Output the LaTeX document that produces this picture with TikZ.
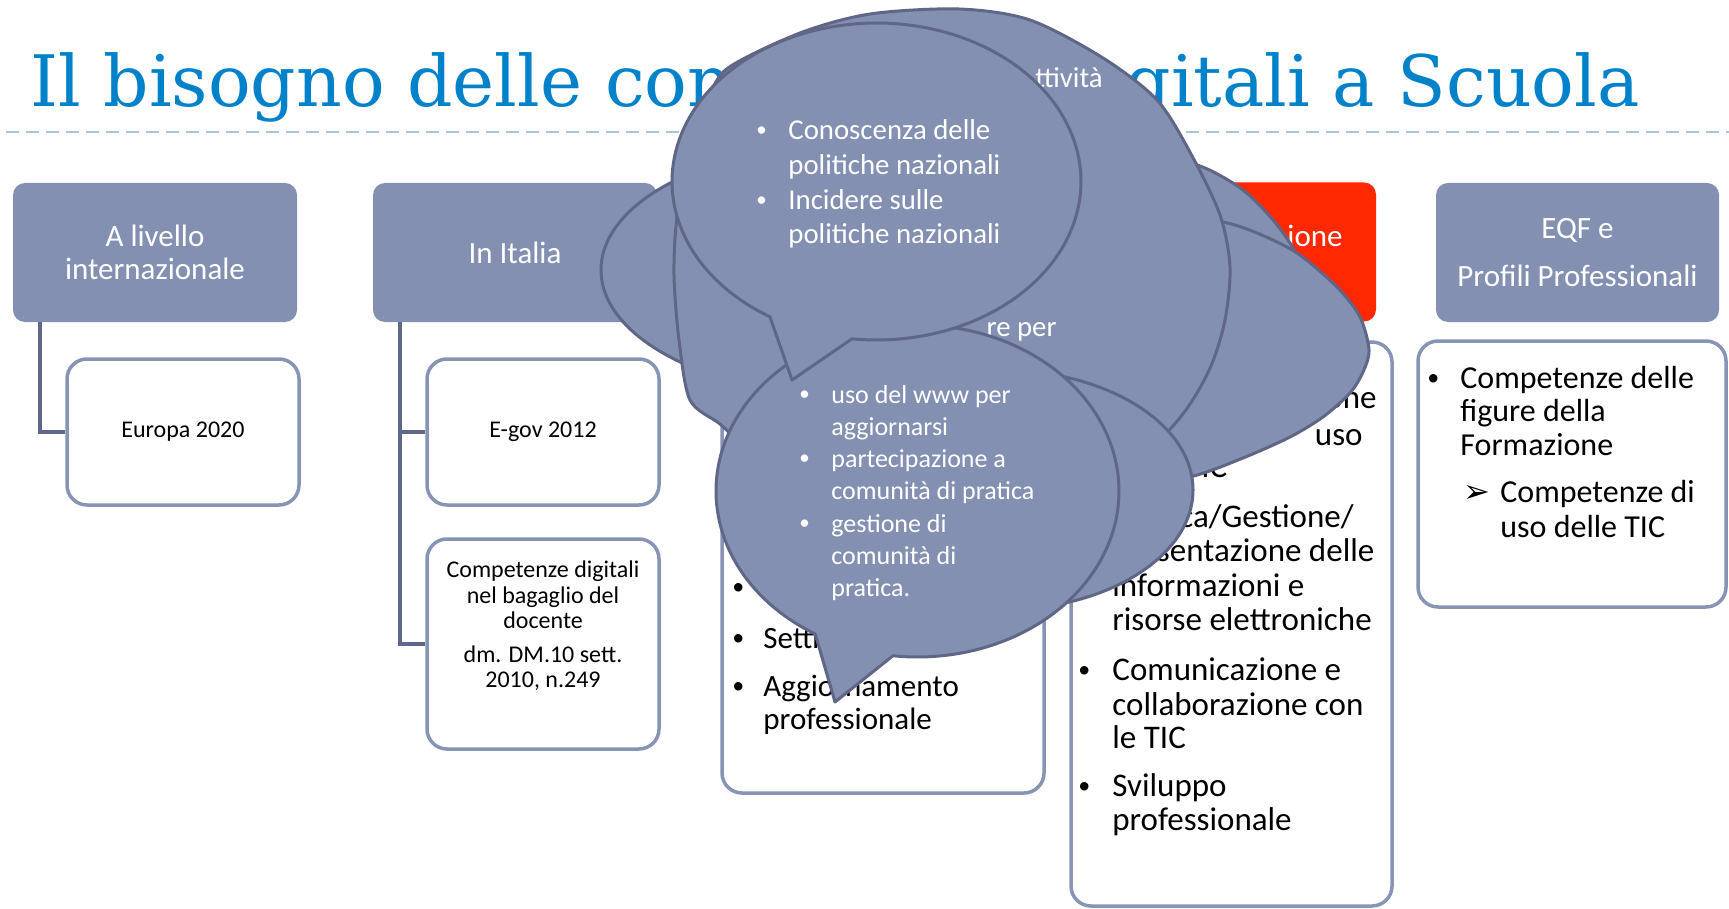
\documentclass[tikz,border=0pt]{standalone}
\usepackage{fontspec}
\setmainfont{Carlito}
\newfontfamily\titlefont{DejaVu Serif}
\newfontfamily\dingfont{DejaVu Sans}
\definecolor{titleblue}{RGB}{0,130,202}
\definecolor{dashblue}{RGB}{168,196,218}
\definecolor{slate}{RGB}{131,144,177}
\definecolor{slateedge}{RGB}{95,102,134}
\definecolor{boxedge}{RGB}{136,148,182}
\definecolor{connc}{RGB}{95,103,138}
\definecolor{hotred}{RGB}{255,40,0}
\tikzset{
  hdr/.style={fill=slate, rounded corners=6pt, text=white, align=center,
    font=\fontsize{15.5}{16.25}\selectfont, minimum width=142pt, minimum height=69.5pt, inner sep=0pt},
  htxt/.style={text=white, font=\fontsize{15.5}{16.25}\selectfont, inner sep=0pt},
  ttl/.style={inner sep=0pt, text=titleblue, font=\titlefont\fontsize{35.5}{36}\selectfont},
  cbox/.style={draw=boxedge, line width=1.75pt, fill=white, rounded corners=10pt, inner sep=0pt},
  conn/.style={draw=connc, line width=2pt},
  bub/.style={fill=slate, draw=slateedge, line width=1.5pt, line join=round},
  small/.style={font=\fontsize{12}{12.75}\selectfont, inner sep=0pt},
  body/.style={font=\fontsize{16.5}{17}\selectfont, anchor=base west, inner sep=0pt},
  bodyc/.style={font=\fontsize{15.5}{16}\selectfont, anchor=base west, inner sep=0pt},
  bodyv/.style={font=\fontsize{16}{16.5}\selectfont, anchor=base west, inner sep=0pt},
  dot/.style={font=\fontsize{12}{12}\selectfont, anchor=base west, inner sep=0pt},
  wdot/.style={text=white, font=\fontsize{10.5}{11}\selectfont, anchor=base west, inner sep=0pt},
  wtxtE/.style={text=white, font=\fontsize{14.4}{15}\selectfont, anchor=base west, inner sep=0pt},
  wtxtF/.style={text=white, font=\fontsize{13}{13.5}\selectfont, anchor=base west, inner sep=0pt},
}
\begin{document}
\begin{tikzpicture}[x=0.5pt,y=-0.5pt]
\useasboundingbox (0,0) rectangle (1729,909);
\fill[white] (0,0) rectangle (1729,909);

% title (its middle is hidden by the balloons) and rule
\node[ttl, anchor=base west] (titleA) at (30,106.7) {Il bisogno delle com};
\node[ttl, anchor=base east] (titleB) at (1640,106.7) {gitali a Scuola};
\coordinate (dl) at (6,132);
\coordinate (dr) at (1729,132);
\draw[dashblue, line width=1pt, dash pattern=on 6.5pt off 3.5pt] (dl) -- (dr);

% headers
\node[hdr] (h1) at (155,252.5) {A livello\\internazionale};
\node[hdr] (h2) at (515,252.5) {In Italia};
\node[hdr, fill=hotred] (h4) at (1234,252) {};
\node[htxt, anchor=base east] (h4t) at (1343,247) {ione};
\node[hdr, minimum width=141.5pt] (h5) at (1577.5,252.5) {EQF e\\[7.75pt]Profili Professionali};

% child boxes
\node[cbox, small, minimum width=116pt, minimum height=73pt] (eu) at (183,432) {Europa 2020};
\node[cbox, small, minimum width=116pt, minimum height=73pt] (eg) at (543,432) {E-gov 2012};
\node[cbox, minimum width=116pt, minimum height=105pt] (cd) at (543,644) {};
\node[small, align=center] (cdt) at (543,626) {Competenze digitali\\nel bagaglio del\\docente\\[4pt]dm. DM.10 sett.\\2010, n.249};
\node[cbox, minimum width=161pt, minimum height=225.5pt] (b3) at (883,567.5) {};
\node[cbox, minimum width=160.5pt, minimum height=282pt] (b4) at (1231.5,624) {};
\node[cbox, minimum width=154pt, minimum height=133pt] (b5) at (1572,474) {};

% connectors
\draw[conn] ([xshift=13.5pt]h1.south west) |- (eu.west);
\draw[conn] ([xshift=13.5pt]h2.south west) |- (eg.west);
\draw[conn] ([xshift=13.5pt]h2.south west) |- (cd.west);

% column 3 text
\node[dot] (b3a) at (732,594) {•};
\node[dot] (b3b) at (732,645) {•};
\node[bodyc] (b3c) at (763,648) {Setti};
\node[dot] (b3d) at (732,693) {•};
\node[bodyc] (b3e) at (763,696) {Aggiornamento};
\node[bodyc] (b3f) at (763,729) {professionale};

% column 4 text
\node[body, anchor=base east] (c4a) at (1377,408) {one};
\node[body, anchor=base east] (c4b) at (1363,445) {uso};
\node[body] (c4c) at (1112,477) {delle TIC};
\node[body] (c4d) at (1112,527) {Ricerca/Gestione/};
\node[body] (c4e) at (1112,561) {Presentazione delle};
\node[body] (c4f) at (1112,596) {informazioni e};
\node[body] (c4g) at (1112,630) {risorse elettroniche};
\node[dot] (c4h) at (1078,677) {•};
\node[body] (c4i) at (1112,680) {Comunicazione e};
\node[body] (c4j) at (1112,715) {collaborazione con};
\node[body] (c4k) at (1112,748) {le TIC};
\node[dot] (c4l) at (1078,793) {•};
\node[body] (c4m) at (1112,796) {Sviluppo};
\node[body] (c4n) at (1112,830) {professionale};

% column 5 text
\node[dot] (c5a) at (1427,385) {•};
\node[bodyv] (c5b) at (1460,388) {Competenze delle};
\node[bodyv] (c5c) at (1460,421) {figure della};
\node[bodyv] (c5d) at (1460,455) {Formazione};
\node[anchor=base west, inner sep=0pt, font=\dingfont\fontsize{16}{16}\selectfont] (c5e) at (1463,502) {➢};
\node[bodyv] (c5f) at (1500,502) {Competenze di};
\node[bodyv] (c5g) at (1500,537) {uso delle TIC};

% ---- balloons, back to front ----
% D
\draw[bub] plot[smooth cycle] coordinates {(1000,180) (1100,150) (1160,155) (1205,168) (1243,190) (1273,220) (1295,252) (1312,300) (1260,400) (1100,420) (950,300)};
% C
\draw[bub] plot[smooth cycle] coordinates {(1223,222) (1257,233) (1297,253) (1337,287) (1360,317) (1369,350) (1363,372) (1350,393) (1323,417) (1290,437) (1243,458) (1190,477) (1100,495) (950,450) (900,330) (1000,240) (1100,215) (1170,215)};
% A
\draw[bub] (851,270) ellipse [x radius=125pt, y radius=63pt];
% B
\draw[bub] plot[smooth cycle] coordinates {(728,68) (800,33) (870,14) (959,9) (1030,20) (1103,58) (1157,100) (1191,154) (1220,215) (1230,267) (1225,320) (1211,366) (1188,407) (1158,441) (1100,485) (950,515) (800,490) (745,447) (720,424) (690,400) (679,340) (674,275) (677,217) (690,150) (708,100)};
\node[wtxtE, anchor=base east] (bt1) at (1103,88) {ttività};
\node[wtxtE, anchor=base east] (bt2) at (1057,336) {re per};
% G
\draw[bub] (1000,490) ellipse [x radius=96.5pt, y radius=60pt];
% F
\draw[bub] plot[domain=120.5:457, samples=160, variable=\t] ({917.5+201.5*cos(\t)},{491+166*sin(\t)}) -- (835,702) -- cycle;
\node[wdot] (f1) at (799,400) {•};
\node[wtxtF] (f2) at (831,403) {uso del www per};
\node[wtxtF] (f3) at (831,435) {aggiornarsi};
\node[wdot] (f4) at (799,464) {•};
\node[wtxtF] (f5) at (831,467) {partecipazione a};
\node[wtxtF] (f6) at (831,499) {comunità di pratica};
\node[wdot] (f7) at (799,529) {•};
\node[wtxtF] (f8) at (831,532) {gestione di};
\node[wtxtF] (f9) at (831,564) {comunità di};
\node[wtxtF] (f10) at (831,596) {pratica.};
% E
\draw[bub] plot[domain=121.4:456.9, samples=160, variable=\t] ({876.5+204.5*cos(\t)},{181.5+158.5*sin(\t)}) -- (792,380) -- cycle;
\node[wdot] (e1) at (756,137) {•};
\node[wtxtE] (e2) at (788,140) {Conoscenza delle};
\node[wtxtE] (e3) at (788,175) {politiche nazionali};
\node[wdot] (e4) at (756,207) {•};
\node[wtxtE] (e5) at (788,210) {Incidere sulle};
\node[wtxtE] (e6) at (788,244) {politiche nazionali};
\end{tikzpicture}
\end{document}
